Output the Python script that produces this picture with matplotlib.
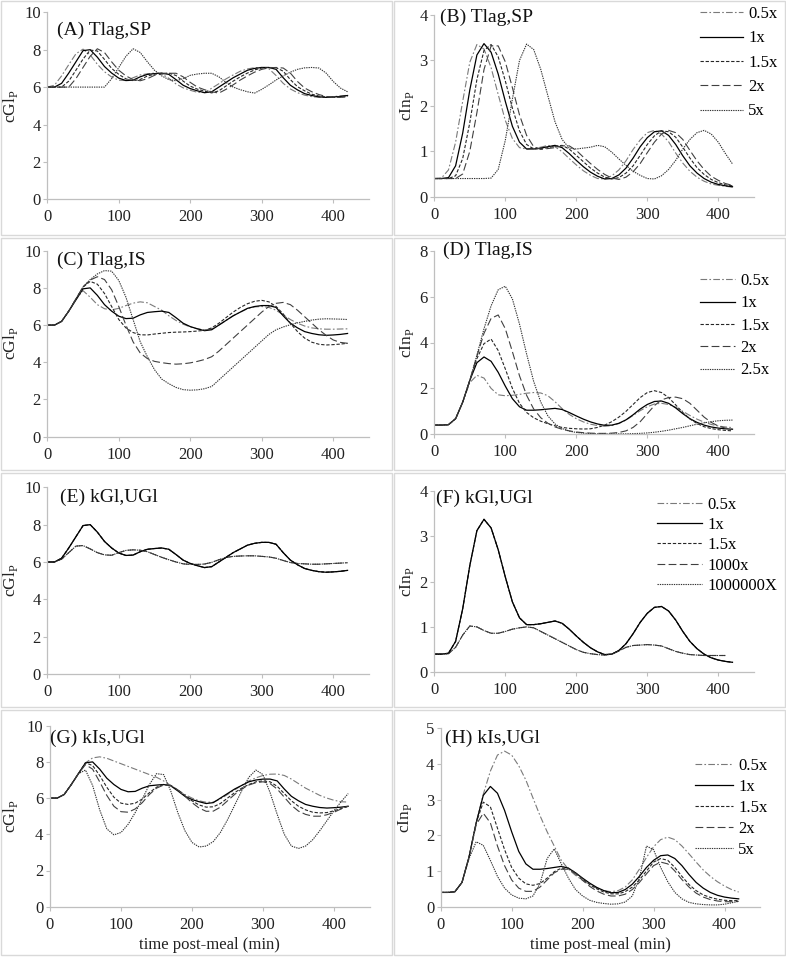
import numpy as np
import matplotlib
matplotlib.use("Agg")
import matplotlib.pyplot as plt
from matplotlib.patches import Rectangle

plt.rcParams['font.family'] = ['Liberation Serif', 'DejaVu Serif']
plt.rcParams['mathtext.fontset'] = 'custom'
plt.rcParams['mathtext.rm'] = 'Liberation Serif'

nan = np.nan
# time post-meal (min), every 10 min
t = list(range(0, 421, 10))

# 1x curves (same in every panel)
GL_1X = [6.0, 6.0, 6.2, 6.75, 7.35, 7.95, 8.0, 7.6, 7.1, 6.75,
         6.48, 6.35, 6.37, 6.55, 6.68, 6.72, 6.75, 6.68, 6.4, 6.1,
         5.92, 5.8, 5.7, 5.75, 6.0, 6.25, 6.5, 6.7, 6.9, 7.0,
         7.05, 7.05, 6.95, 6.5, 6.1, 5.85, 5.65, 5.55, 5.48, 5.45,
         5.47, 5.5, 5.55]
IN_1X = [0.4, 0.4, 0.42, 0.68, 1.4, 2.35, 3.12, 3.37, 3.18, 2.7,
         2.1, 1.55, 1.2, 1.05, 1.05, 1.07, 1.1, 1.13, 1.08, 0.95,
         0.8, 0.66, 0.54, 0.45, 0.39, 0.4, 0.48, 0.63, 0.85, 1.1,
         1.3, 1.43, 1.45, 1.35, 1.15, 0.9, 0.68, 0.52, 0.4, 0.32,
         0.27, 0.24, 0.22]

# (A) Tlag,SP  glucose
A_05 = [6.0, 6.1, 6.6, 7.2, 7.78, 8.03, 7.72, 7.22, 6.82, 6.54,
        6.37, 6.35, 6.5, 6.65, 6.71, 6.75, 6.71, 6.47, 6.17, 5.96,
        5.83, 5.72, 5.71, 5.94, 6.18, 6.44, 6.65, 6.85, 6.97, 7.04,
        7.05, 6.98, 6.62, 6.2, 5.9, 5.7, 5.57, 5.49, 5.45, 5.46,
        5.49, 5.53, 5.56]
A_15 = [6.0, 6.0, 6.0, 6.32, 6.9, 7.5, 7.98, 7.93, 7.48, 7.0,
        6.68, 6.44, 6.34, 6.41, 6.59, 6.69, 6.73, 6.75, 6.62, 6.32,
        6.05, 5.89, 5.78, 5.69, 5.8, 6.06, 6.32, 6.55, 6.75, 6.92,
        7.02, 7.05, 7.04, 6.85, 6.4, 6.02, 5.8, 5.62, 5.52, 5.47,
        5.45, 5.47, 5.51]
A_2 = [6.0, 6.0, 6.0, 6.0, 6.45, 7.05, 7.65, 8.05, 7.85, 7.35,
       6.9, 6.6, 6.4, 6.34, 6.45, 6.63, 6.7, 6.74, 6.74, 6.55,
       6.25, 6.0, 5.86, 5.75, 5.68, 5.88, 6.12, 6.38, 6.6, 6.8,
       6.95, 7.03, 7.05, 7.02, 6.75, 6.3, 5.95, 5.75, 5.6, 5.5,
       5.46, 5.45, 5.48]
A_5 = [6.0, 6.0, 6.0, 6.0, 6.0, 6.0, 6.0, 6.0, 6.0, 6.45,
       7.05, 7.65, 8.05, 7.85, 7.35, 6.9, 6.6, 6.4, 6.34, 6.45,
       6.63, 6.7, 6.74, 6.74, 6.55, 6.25, 6.0, 5.86, 5.75, 5.68,
       5.88, 6.12, 6.38, 6.6, 6.8, 6.95, 7.03, 7.05, 7.02, 6.75,
       6.3, 5.95, 5.75]

# (B) Tlag,SP  insulin
B_05 = [0.4, 0.41, 0.59, 1.2, 2.1, 2.96, 3.35, 3.25, 2.84, 2.25,
        1.68, 1.28, 1.08, 1.05, 1.07, 1.09, 1.13, 1.1, 0.99, 0.84,
        0.7, 0.57, 0.47, 0.4, 0.39, 0.46, 0.59, 0.79, 1.04, 1.25,
        1.41, 1.46, 1.38, 1.21, 0.96, 0.74, 0.56, 0.43, 0.34, 0.28,
        0.25, 0.23, 0.21]
B_15 = [0.4, 0.4, 0.4, 0.46, 0.84, 1.63, 2.58, 3.22, 3.35, 3.08,
        2.55, 1.95, 1.45, 1.15, 1.05, 1.06, 1.08, 1.11, 1.13, 1.05,
        0.91, 0.77, 0.63, 0.52, 0.43, 0.39, 0.42, 0.52, 0.68, 0.91,
        1.15, 1.34, 1.45, 1.43, 1.31, 1.09, 0.85, 0.64, 0.49, 0.38,
        0.31, 0.26, 0.24]
B_2 = [0.4, 0.4, 0.4, 0.4, 0.5, 1.0, 1.85, 2.8, 3.32, 3.32,
       2.97, 2.4, 1.8, 1.35, 1.1, 1.04, 1.06, 1.08, 1.12, 1.12,
       1.02, 0.87, 0.73, 0.6, 0.49, 0.41, 0.38, 0.43, 0.55, 0.73,
       0.97, 1.2, 1.38, 1.46, 1.41, 1.26, 1.02, 0.79, 0.6, 0.45,
       0.36, 0.29, 0.25]
B_5 = [0.4, 0.4, 0.4, 0.4, 0.4, 0.4, 0.4, 0.4, 0.41, 0.6,
       1.24, 2.15, 3.0, 3.36, 3.24, 2.8, 2.22, 1.65, 1.26, 1.07,
       1.05, 1.07, 1.09, 1.13, 1.1, 0.98, 0.83, 0.69, 0.56, 0.47,
       0.4, 0.39, 0.46, 0.6, 0.8, 1.05, 1.26, 1.41, 1.46, 1.38,
       1.2, 0.95, 0.72]

# (C) Tlag,IS  glucose
C_05 = [6.0, 6.0, 6.2, 6.75, 7.4, 7.85, 7.5, 7.1, 6.88, 6.82,
        6.9, 7.05, 7.18, 7.25, 7.2, 7.0, 6.8, 6.5, 6.25, 6.05,
        5.9, 5.8, 5.74, 5.8, 6.0, 6.25, 6.5, 6.7, 6.88, 6.98,
        7.0, 6.95, 6.8, 6.55, 6.3, 6.1, 5.95, 5.85, 5.8, 5.78,
        5.78, 5.79, 5.8]
C_15 = [6.0, 6.0, 6.2, 6.75, 7.4, 8.05, 8.35, 8.2, 7.7, 7.0,
        6.3, 5.85, 5.6, 5.48, 5.47, 5.52, 5.56, 5.6, 5.62, 5.63,
        5.65, 5.68, 5.72, 5.85, 6.1, 6.4, 6.7, 6.95, 7.15, 7.28,
        7.33, 7.25, 7.0, 6.6, 6.1, 5.65, 5.3, 5.08, 4.97, 4.93,
        4.95, 4.98, 5.02]
C_2 = [6.0, 6.0, 6.2, 6.75, 7.4, 8.05, 8.42, 8.6, 8.45, 7.9,
       7.0, 6.0, 5.1, 4.5, 4.2, 4.05, 3.98, 3.93, 3.9, 3.92,
       3.97, 4.05, 4.15, 4.3, 4.6, 4.95, 5.3, 5.65, 6.0, 6.35,
       6.7, 7.0, 7.17, 7.22, 7.1, 6.8, 6.45, 6.1, 5.75, 5.45,
       5.2, 5.07, 5.02]
C_25 = [6.0, 6.0, 6.2, 6.75, 7.4, 8.05, 8.45, 8.75, 8.93, 8.9,
        8.4, 7.5, 6.3, 5.1, 4.3, 3.6, 3.1, 2.85, 2.65, 2.53,
        2.5, 2.52, 2.58, 2.7, 3.05, 3.4, 3.75, 4.1, 4.45, 4.8,
        5.15, 5.5, 5.75, 5.9, 6.02, 6.12, 6.2, 6.27, 6.32, 6.34,
        6.33, 6.32, 6.3]

# (D) Tlag,IS  insulin
D_05 = [0.4, 0.4, 0.42, 0.68, 1.4, 2.25, 2.57, 2.45, 2.0, 1.72,
        1.68, 1.7, 1.74, 1.79, 1.82, 1.8, 1.68, 1.42, 1.12, 0.87,
        0.68, 0.54, 0.44, 0.38, 0.35, 0.38, 0.47, 0.62, 0.82, 1.03,
        1.2, 1.32, 1.35, 1.3, 1.18, 1.0, 0.82, 0.66, 0.53, 0.43,
        0.36, 0.32, 0.29]
D_15 = [0.4, 0.4, 0.42, 0.68, 1.4, 2.35, 3.3, 3.95, 4.15, 3.65,
        2.85, 2.0, 1.35, 0.95, 0.72, 0.57, 0.46, 0.37, 0.3, 0.26,
        0.24, 0.23, 0.24, 0.3, 0.4, 0.55, 0.75, 1.0, 1.3, 1.6,
        1.82, 1.9, 1.82, 1.6, 1.28, 0.95, 0.67, 0.47, 0.33, 0.25,
        0.2, 0.17, 0.15]
D_2 = [0.4, 0.4, 0.42, 0.68, 1.4, 2.35, 3.4, 4.4, 5.05, 5.2,
       4.6, 3.6, 2.55, 1.7, 1.1, 0.72, 0.48, 0.32, 0.22, 0.15,
       0.1, 0.07, 0.05, 0.04, 0.04, 0.05, 0.08, 0.15, 0.3, 0.55,
       0.9, 1.25, 1.5, 1.6, 1.62, 1.55, 1.35, 1.05, 0.75, 0.52,
       0.36, 0.27, 0.22]
D_25 = [0.4, 0.4, 0.42, 0.68, 1.4, 2.35, 3.45, 4.6, 5.6, 6.3,
        6.45, 5.9, 4.8, 3.5, 2.3, 1.4, 0.8, 0.45, 0.25, 0.14,
        0.08, 0.05, 0.03, 0.02, 0.02, 0.02, 0.02, 0.02, 0.03, 0.04,
        0.06, 0.09, 0.13, 0.18, 0.24, 0.3, 0.37, 0.44, 0.5, 0.55,
        0.59, 0.61, 0.62]

# (E)/(F) kGl,UGl  - 0.5x and 1.5x sit on the 1x line, 1000x on 1000000X
E_BIG = [6.0, 6.0, 6.15, 6.5, 6.85, 6.88, 6.7, 6.5, 6.38, 6.36,
         6.5, 6.62, 6.65, 6.63, 6.55, 6.4, 6.25, 6.12, 6.0, 5.9,
         5.87, 5.87, 5.89, 5.98, 6.12, 6.24, 6.3, 6.32, 6.33, 6.33,
         6.3, 6.27, 6.2, 6.08, 5.97, 5.92, 5.9, 5.88, 5.88, 5.9,
         5.92, 5.94, 5.96]
F_BIG = [0.4, 0.4, 0.41, 0.55, 0.82, 1.02, 1.0, 0.92, 0.86, 0.86,
         0.9, 0.95, 0.98, 1.0, 0.98, 0.9, 0.82, 0.74, 0.66, 0.58,
         0.5, 0.44, 0.41, 0.39, 0.38, 0.4, 0.47, 0.55, 0.59, 0.6,
         0.61, 0.6, 0.58, 0.52, 0.46, 0.42, 0.39, 0.38, 0.37, 0.37,
         0.37, 0.37, nan]

# (G) kIs,UGl  glucose
G_05 = [6.0, 6.0, 6.2, 6.75, 7.35, 7.95, 8.22, 8.28, 8.2, 8.05,
        7.9, 7.75, 7.6, 7.45, 7.3, 7.15, 6.95, 6.7, 6.45, 6.2,
        6.0, 5.85, 5.77, 5.78, 5.95, 6.2, 6.45, 6.7, 6.95, 7.12,
        7.25, 7.32, 7.33, 7.25, 7.05, 6.8, 6.55, 6.35, 6.15, 6.0,
        5.88, 5.8, 5.78]
G_15 = [6.0, 6.0, 6.2, 6.75, 7.35, 7.95, 7.8, 7.25, 6.6, 6.05,
        5.72, 5.65, 5.72, 5.95, 6.3, 6.6, 6.75, 6.7, 6.45, 6.15,
        5.85, 5.62, 5.5, 5.52, 5.7, 6.0, 6.3, 6.55, 6.75, 6.9,
        6.95, 6.9, 6.65, 6.25, 5.85, 5.55, 5.35, 5.22, 5.18, 5.2,
        5.3, 5.42, 5.55]
G_2 = [6.0, 6.0, 6.2, 6.75, 7.35, 7.85, 7.6, 6.9, 6.15, 5.55,
       5.25, 5.22, 5.4, 5.75, 6.2, 6.55, 6.72, 6.7, 6.45, 6.1,
       5.75, 5.45, 5.27, 5.28, 5.5, 5.85, 6.2, 6.5, 6.72, 6.85,
       6.9, 6.8, 6.5, 6.05, 5.6, 5.28, 5.1, 5.0, 5.0, 5.08,
       5.22, 5.4, 5.55]
G_5 = [6.0, 6.0, 6.2, 6.75, 7.35, 7.55, 6.7, 5.35, 4.3, 3.97,
       4.1, 4.55, 5.2, 5.95, 6.75, 7.35, 7.3, 6.4, 5.2, 4.2,
       3.55, 3.3, 3.35, 3.6, 4.1, 4.8, 5.6, 6.4, 7.15, 7.55,
       7.3, 6.3, 5.1, 4.0, 3.35, 3.22, 3.35, 3.7, 4.2, 4.75,
       5.3, 5.8, 6.25]

# (H) kIs,UGl  insulin
H_05 = [0.4, 0.4, 0.42, 0.68, 1.4, 2.35, 3.15, 3.8, 4.25, 4.36,
        4.25, 3.95, 3.55, 3.05, 2.55, 2.1, 1.7, 1.3, 1.05, 0.88,
        0.74, 0.62, 0.52, 0.45, 0.42, 0.45, 0.55, 0.75, 1.05, 1.38,
        1.68, 1.88, 1.95, 1.88, 1.7, 1.48, 1.25, 1.03, 0.85, 0.7,
        0.58, 0.48, 0.41]
H_15 = [0.4, 0.4, 0.42, 0.68, 1.4, 2.35, 2.93, 2.8, 2.2, 1.6,
        1.1, 0.8, 0.64, 0.6, 0.65, 0.8, 0.98, 1.08, 1.08, 0.95,
        0.78, 0.62, 0.5, 0.41, 0.36, 0.36, 0.42, 0.55, 0.75, 1.0,
        1.25, 1.35, 1.3, 1.1, 0.85, 0.62, 0.45, 0.33, 0.26, 0.21,
        0.18, 0.17, 0.17]
H_2 = [0.4, 0.4, 0.42, 0.68, 1.4, 2.3, 2.62, 2.35, 1.7, 1.15,
       0.75, 0.52, 0.43, 0.43, 0.55, 0.75, 0.95, 1.05, 1.05, 0.92,
       0.74, 0.57, 0.44, 0.35, 0.3, 0.3, 0.35, 0.48, 0.68, 0.92,
       1.15, 1.25, 1.2, 1.0, 0.76, 0.55, 0.38, 0.27, 0.2, 0.16,
       0.14, 0.14, 0.15]
H_5 = [0.4, 0.4, 0.42, 0.68, 1.35, 1.82, 1.72, 1.3, 0.85, 0.52,
       0.33, 0.24, 0.22, 0.3, 0.65, 1.35, 1.62, 1.2, 0.8, 0.48,
       0.3, 0.18, 0.12, 0.09, 0.07, 0.08, 0.13, 0.3, 0.8, 1.7,
       1.6, 1.1, 0.7, 0.4, 0.22, 0.12, 0.08, 0.06, 0.05, 0.05,
       0.07, 0.11, 0.15]

LAB_5 = ['0.5x', '1x', '1.5x', '2x', '5x']
LAB_D = ['0.5x', '1x', '1.5x', '2x', '2.5x']
LAB_F = ['0.5x', '1x', '1.5x', '1000x', '1000000X']

# line styles, in series order
STY = [dict(ls=(0, (6, 2, 1.5, 2)), color='#7a7a7a', lw=0.8),
       dict(ls='-', color='#000000', lw=0.9),
       dict(ls=(0, (3, 1.6)), color='#262626', lw=0.8),
       dict(ls=(0, (7, 3)), color='#404040', lw=0.8),
       dict(ls=(0, (1.2, 0.9)), color='#333333', lw=0.8)]

W, H = 786, 957
fig = plt.figure(figsize=(W / 100, H / 100), dpi=100)


def fx(x):
    return x / W


def fy(y):
    return 1 - y / H


# chart borders (each panel was its own chart)
for (l, tp, r, b) in [(1, 1, 392, 235), (394, 1, 785, 235),
                      (1, 238, 392, 470), (394, 238, 785, 470),
                      (1, 473, 392, 707), (394, 473, 785, 707),
                      (1, 710, 392, 955), (394, 710, 785, 955)]:
    fig.add_artist(Rectangle((fx(l), fy(b)), (r - l) / W, (b - tp) / H,
                             transform=fig.transFigure, fill=False,
                             ec='#d9d9d9', lw=1.0, zorder=-1))


def panel(box, series, labels, ymax, ystep, ylab, labx, title, tpos,
          leg=None, xlab=False, order=None):
    l, tp, r, b = box
    ax = fig.add_axes([fx(l), fy(b), (r - l) / W, (b - tp) / H])
    ax.patch.set_alpha(0)
    if order is None:
        order = range(len(series))
    lines = {}
    for i in order:
        ln, = ax.plot(t, series[i], label=labels[i], **STY[i])
        lines[i] = ln
    ax.set_xlim(0, 450)
    ax.set_ylim(0, ymax)
    ax.set_xticks([0, 100, 200, 300, 400])
    ax.set_yticks(np.arange(0, ymax + 0.01, ystep))
    ax.set_yticklabels([str(int(v)) for v in np.arange(0, ymax + 0.01, ystep)])
    for s in ['top', 'right']:
        ax.spines[s].set_visible(False)
    for s in ['left', 'bottom']:
        ax.spines[s].set_color('#bfbfbf')
        ax.spines[s].set_linewidth(0.9)
    ax.tick_params(axis='both', colors='#bfbfbf', labelcolor='#222222',
                   labelsize=12, length=3.2, width=0.8)
    ax.tick_params(axis='y', pad=1.5)
    ax.tick_params(axis='x', pad=4)
    ax.set_ylabel(ylab, fontsize=12.5, color='#222222')
    ax.yaxis.set_label_coords((labx - l) / (r - l), 0.5)
    if xlab:
        ax.set_xlabel('time post-meal (min)', fontsize=12, color='#222222')
        ax.xaxis.set_label_coords(0.5, (b - 937) / (b - tp))
        ax.xaxis.label.set_va('top')
    fig.text(fx(tpos[0]), fy(tpos[1]), title, fontsize=14, ha='left',
             va='center', color='#111111')
    if leg is not None:
        lx, ly, hl, sp = leg
        hs = [lines[i] for i in range(len(series))]
        ax.legend(hs, labels, loc='upper left', bbox_to_anchor=(fx(lx), fy(ly)),
                  bbox_transform=fig.transFigure, frameon=False, fontsize=12,
                  handlelength=hl, handletextpad=0.3, labelspacing=sp,
                  borderpad=0, borderaxespad=0)
    return ax


GLY = r'cGl$_\mathregular{P}$'
INS = r'cIn$_\mathregular{P}$'

panel((47.3, 12.3, 369, 199.3), [A_05, GL_1X, A_15, A_2, A_5], LAB_5,
      10, 2, GLY, 20, '(A) Tlag,SP', (57, 30))
panel((434.3, 15, 753.8, 196.7), [B_05, IN_1X, B_15, B_2, B_5], LAB_5,
      4, 1, INS, 416, '(B) Tlag,SP', (440, 17), leg=(700, 6, 2.6, 0.5))
panel((47.3, 250.7, 369, 436.7), [C_05, GL_1X, C_15, C_2, C_25], LAB_D,
      10, 2, GLY, 20, '(C) Tlag,IS', (57, 260))
panel((434.3, 250.7, 753.8, 434.3), [D_05, IN_1X, D_15, D_2, D_25], LAB_D,
      8, 2, INS, 416, '(D) Tlag,IS', (443, 250), leg=(700, 273, 2.1, 0.38))
panel((47.3, 487.3, 369, 674), [GL_1X, GL_1X, GL_1X, E_BIG, E_BIG], LAB_F,
      10, 2, GLY, 20, '(E) kGl,UGl', (60, 497), order=[0, 2, 3, 1, 4])
panel((434.3, 490.7, 753.8, 672.3), [IN_1X, IN_1X, IN_1X, F_BIG, F_BIG], LAB_F,
      4, 1, INS, 416, '(F) kGl,UGl', (436, 498), leg=(657, 497, 2.7, 0.25),
      order=[0, 2, 3, 1, 4])
panel((50, 725.7, 369.5, 906.7), [G_05, GL_1X, G_15, G_2, G_5], LAB_5,
      10, 2, GLY, 20, '(G) kIs,UGl', (50, 738), xlab=True)
panel((440.7, 728.3, 760, 906.7), [H_05, IN_1X, H_15, H_2, H_5], LAB_5,
      5, 1, INS, 414, '(H) kIs,UGl', (445, 738), leg=(695, 758, 2.3, 0.3),
      xlab=True)

fig.savefig('out.png', dpi=100)
